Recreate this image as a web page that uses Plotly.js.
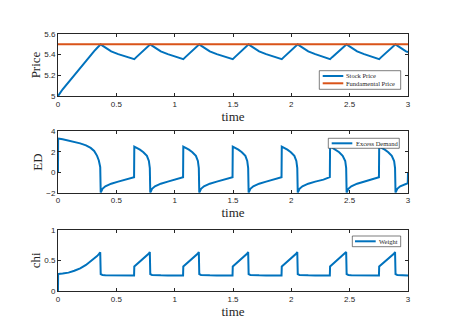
<!DOCTYPE html>
<html><head><meta charset="utf-8">
<script src="https://cdn.plot.ly/plotly-3.0.1.min.js"></script>
<style>html,body{margin:0;padding:0;background:#fff}#c{width:460px;height:335px}</style>
</head><body><div id="c"></div>
<script>
// shared time grid
var time = [
 0, 0.001, 0.04, 0.09, 0.14, 0.19, 0.24, 0.28, 0.31, 0.335, 0.35, 0.362,
 0.366, 0.381, 0.406, 0.456, 0.516, 0.586, 0.652, 0.654, 0.672, 0.702, 0.732, 0.762, 0.779, 0.787,
 0.791, 0.806, 0.831, 0.881, 0.941, 1.011, 1.072, 1.074, 1.092, 1.122, 1.152, 1.182, 1.199, 1.207,
 1.211, 1.226, 1.251, 1.301, 1.361, 1.431, 1.496, 1.498, 1.516, 1.546, 1.576, 1.606, 1.622, 1.630,
 1.634, 1.649, 1.674, 1.724, 1.784, 1.854, 1.916, 1.918, 1.936, 1.966, 1.996, 2.026, 2.043, 2.051,
 2.055, 2.070, 2.095, 2.145, 2.205, 2.275, 2.330, 2.332, 2.350, 2.380, 2.410, 2.440, 2.462, 2.470,
 2.474, 2.489, 2.514, 2.564, 2.624, 2.694, 2.751, 2.753, 2.771, 2.801, 2.831, 2.861, 2.881, 2.889,
 2.893, 2.908, 2.933, 2.983, 2.998, 3.000
];
var stockPrice = [
 5.0, 5.001, 5.065, 5.135, 5.205, 5.27, 5.34, 5.40, 5.435, 5.465, 5.48, 5.494,
 5.5, 5.487, 5.466, 5.432, 5.405, 5.38, 5.356, 5.357, 5.376, 5.408, 5.44, 5.47, 5.488, 5.496,
 5.5, 5.487, 5.466, 5.432, 5.405, 5.38, 5.356, 5.357, 5.376, 5.408, 5.44, 5.47, 5.488, 5.496,
 5.5, 5.487, 5.466, 5.432, 5.405, 5.38, 5.356, 5.357, 5.376, 5.408, 5.44, 5.47, 5.488, 5.496,
 5.5, 5.487, 5.466, 5.432, 5.405, 5.38, 5.356, 5.357, 5.376, 5.408, 5.44, 5.47, 5.488, 5.496,
 5.5, 5.487, 5.466, 5.432, 5.405, 5.38, 5.356, 5.357, 5.376, 5.408, 5.44, 5.47, 5.488, 5.496,
 5.5, 5.487, 5.466, 5.432, 5.405, 5.38, 5.356, 5.357, 5.376, 5.408, 5.44, 5.47, 5.488, 5.496,
 5.5, 5.487, 5.466, 5.432, 5.425, 5.424
];
var fundTime = [0, 3];
var fundPrice = [5.5, 5.5];
var excessDemand = [
 0, 3.3, 3.22, 3.1, 2.98, 2.82, 2.62, 2.38, 2.08, 1.6, 1.15, 0.5,
 -2, -1.62, -1.38, -1.12, -0.92, -0.72, -0.48, 2.5, 2.4, 2.2, 1.95, 1.6, 1.1, 0.4,
 -2, -1.62, -1.38, -1.12, -0.92, -0.72, -0.48, 2.5, 2.4, 2.2, 1.95, 1.6, 1.1, 0.4,
 -2, -1.62, -1.38, -1.12, -0.92, -0.72, -0.48, 2.5, 2.4, 2.2, 1.95, 1.6, 1.1, 0.4,
 -2, -1.62, -1.38, -1.12, -0.92, -0.72, -0.48, 2.5, 2.4, 2.2, 1.95, 1.6, 1.1, 0.4,
 -2, -1.62, -1.38, -1.12, -0.92, -0.72, -0.48, 2.5, 2.4, 2.2, 1.95, 1.6, 1.1, 0.4,
 -2, -1.62, -1.38, -1.12, -0.92, -0.72, -0.48, 2.5, 2.4, 2.2, 1.95, 1.6, 1.1, 0.4,
 -2, -1.62, -1.38, -1.12, -1.08, 0
];
var weight = [
 0, 0.277, 0.285, 0.30, 0.33, 0.37, 0.425, 0.48, 0.53, 0.57, 0.60, 0.63,
 0.275, 0.262, 0.257, 0.255, 0.254, 0.254, 0.254, 0.40, 0.43, 0.47, 0.52, 0.575, 0.61, 0.635,
 0.275, 0.262, 0.257, 0.255, 0.254, 0.254, 0.254, 0.40, 0.43, 0.47, 0.52, 0.575, 0.61, 0.635,
 0.275, 0.262, 0.257, 0.255, 0.254, 0.254, 0.254, 0.40, 0.43, 0.47, 0.52, 0.575, 0.61, 0.635,
 0.275, 0.262, 0.257, 0.255, 0.254, 0.254, 0.254, 0.40, 0.43, 0.47, 0.52, 0.575, 0.61, 0.635,
 0.275, 0.262, 0.257, 0.255, 0.254, 0.254, 0.254, 0.40, 0.43, 0.47, 0.52, 0.575, 0.61, 0.635,
 0.275, 0.262, 0.257, 0.255, 0.254, 0.254, 0.254, 0.40, 0.43, 0.47, 0.52, 0.575, 0.61, 0.635,
 0.275, 0.262, 0.257, 0.255, 0.254, 0.254
];
var xTicks = [0, 0.5, 1, 1.5, 2, 2.5, 3];
var xTickText = ['0', '0.5', '1', '1.5', '2', '2.5', '3'];
var priceTicks = [5, 5.2, 5.4, 5.6];
var edTicks = [-2, 0, 2, 4];
var chiTicks = [0, 0.5, 1];
var legendNames = [['Stock Price', 'Fundamental Price'], ['Excess Demand'], ['Weight']];

var BLUE = '#0072BD', ORANGE = '#D95319', INK = '#262626';
var tickFont = {family: 'Liberation Sans, Arial, sans-serif', size: 8, color: INK};
var titleFont = {family: 'Liberation Serif, Times New Roman, serif', size: 13, color: INK};
var legFont = {family: 'Liberation Serif, Times New Roman, serif', size: 6.5, color: INK};

function xax(anchor) {
  return {domain: [0, 1], anchor: anchor, range: [0, 3], tickvals: xTicks, ticktext: xTickText,
    ticks: 'inside', ticklen: 3, tickcolor: INK, showline: true, linecolor: INK, linewidth: 1,
    mirror: 'ticks', showgrid: false, zeroline: false, tickfont: tickFont,
    title: {text: 'time', font: titleFont, standoff: 0}};
}
function yax(anchor, dom, rng, tv, title) {
  return {domain: dom, anchor: anchor, range: rng, tickvals: tv,
    ticks: 'inside', ticklen: 3, tickcolor: INK, showline: true, linecolor: INK, linewidth: 1,
    mirror: 'ticks', showgrid: false, zeroline: false, tickfont: tickFont,
    title: {text: title, font: titleFont, standoff: 0}};
}

var data = [
  {x: time, y: stockPrice, xaxis: 'x', yaxis: 'y', type: 'scatter', mode: 'lines', name: legendNames[0][0],
   line: {color: BLUE, width: 2}, showlegend: false},
  {x: fundTime, y: fundPrice, xaxis: 'x', yaxis: 'y', type: 'scatter', mode: 'lines', name: legendNames[0][1],
   line: {color: ORANGE, width: 2}, showlegend: false},
  {x: time, y: excessDemand, xaxis: 'x2', yaxis: 'y2', type: 'scatter', mode: 'lines', name: legendNames[1][0],
   line: {color: BLUE, width: 2}, showlegend: false},
  {x: time, y: weight, xaxis: 'x3', yaxis: 'y3', type: 'scatter', mode: 'lines', name: legendNames[2][0],
   line: {color: BLUE, width: 2}, showlegend: false}
];

// legend boxes drawn as shapes + annotations (paper coordinates)
var legendBoxes = [
  {x0: 0.7466, x1: 0.9791, y0: 0.7848, y1: 0.8572, lx0: 0.7563, lx1: 0.8151, tx: 0.8209,
   rows: [{y: 0.8366, color: BLUE, text: legendNames[0][0]}, {y: 0.8082, color: ORANGE, text: legendNames[0][1]}]},
  {x0: 0.7723, x1: 0.9751, y0: 0.5553, y1: 0.5942, lx0: 0.782, lx1: 0.8409, tx: 0.8477,
   rows: [{y: 0.5747, color: BLUE, text: legendNames[1][0]}]},
  {x0: 0.8409, x1: 0.9791, y0: 0.1724, y1: 0.214, lx0: 0.8486, lx1: 0.9077, tx: 0.9143,
   rows: [{y: 0.1934, color: BLUE, text: legendNames[2][0]}]}
];
var shapes = [], annotations = [];
legendBoxes.forEach(function (b) {
  shapes.push({type: 'rect', xref: 'paper', yref: 'paper', x0: b.x0, x1: b.x1, y0: b.y0, y1: b.y1,
    fillcolor: '#fff', line: {color: INK, width: 0.6}, layer: 'above'});
  b.rows.forEach(function (r) {
    shapes.push({type: 'line', xref: 'paper', yref: 'paper', x0: b.lx0, x1: b.lx1, y0: r.y, y1: r.y,
      line: {color: r.color, width: 2}, layer: 'above'});
    annotations.push({xref: 'paper', yref: 'paper', x: b.tx, y: r.y, xanchor: 'left', yanchor: 'middle',
      text: r.text, showarrow: false, font: legFont, borderpad: 0});
  });
});

var layout = {
  width: 460, height: 335,
  margin: {l: 58, r: 52, t: 34, b: 44},
  paper_bgcolor: '#fff', plot_bgcolor: '#fff',
  showlegend: false,
  xaxis: xax('y'), yaxis: yax('x', [0.7588, 1.0], [5, 5.6], priceTicks, 'Price'),
  xaxis2: xax('y2'), yaxis2: yax('x2', [0.3825, 0.6214], [-2, 4], edTicks, 'ED'),
  xaxis3: xax('y3'), yaxis3: yax('x3', [0, 0.2385], [0, 1], chiTicks, 'chi'),
  shapes: shapes, annotations: annotations
};

Plotly.newPlot('c', data, layout, {staticPlot: true, displayModeBar: false});
</script></body></html>
